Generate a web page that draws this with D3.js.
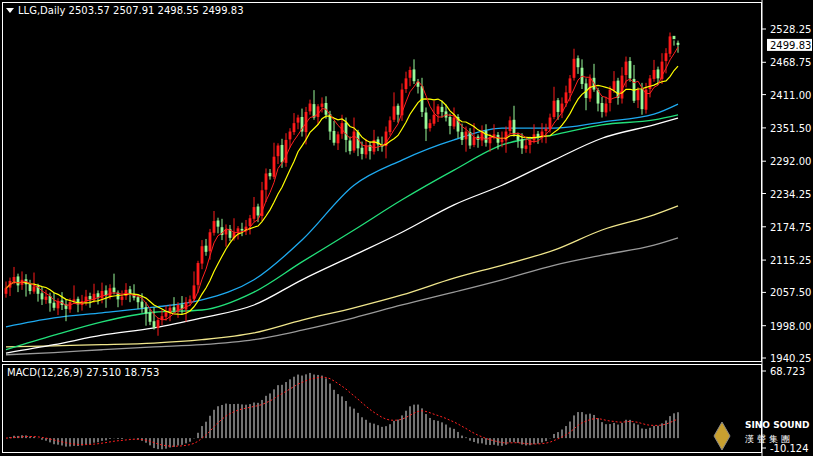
<!DOCTYPE html><html><head><meta charset="utf-8"><script src="https://cdn.jsdelivr.net/npm/d3@7"></script>
<style>body{margin:0;background:#000}svg{display:block}text{font-family:"DejaVu Sans",sans-serif}</style></head><body><svg id="c" width="813" height="456"></svg>
<script>
const closes=[2065,2078,2085,2070,2080,2072,2060,2068,2055,2045,2050,
2038,2030,2042,2035,2028,2040,2045,2036,2042,2050,
2045,2055,2048,2060,2052,2065,2058,2045,2050,2062,
2055,2048,2040,2030,2020,2005,1995,2008,2015,2022,
2030,2025,2035,2028,2040,2045,2070,2110,2140,2130,
2165,2185,2175,2160,2170,2155,2165,2172,2168,2175,
2190,2210,2195,2240,2270,2265,2300,2320,2290,2330,
2345,2360,2370,2345,2380,2395,2370,2390,2395,2375,
2345,2325,2340,2360,2330,2310,2345,2315,2305,2320,
2310,2330,2322,2318,2345,2365,2390,2375,2420,2440,
2455,2435,2425,2380,2350,2360,2375,2390,2380,2370,
2355,2370,2345,2330,2345,2320,2335,2330,2345,2325,
2335,2340,2325,2330,2345,2365,2340,2330,2315,2320,
2330,2340,2335,2345,2350,2370,2400,2380,2395,2415,
2440,2475,2460,2430,2405,2440,2420,2395,2380,2395,
2420,2435,2405,2445,2470,2440,2400,2420,2385,2420,
2440,2455,2440,2470,2485,2515,2510,2499.83];
const opens=[2055,2066,2077,2086,2071,2081,2073,2059,2069,2056,2044,
2051,2039,2029,2043,2036,2027,2041,2046,2035,2041,
2051,2044,2056,2047,2061,2051,2066,2057,2044,2051,
2063,2054,2049,2041,2031,2021,2006,1994,2009,2014,
2021,2031,2024,2036,2027,2039,2046,2071,2109,2141,
2131,2164,2186,2174,2161,2171,2154,2166,2171,2167,
2176,2189,2211,2194,2241,2271,2264,2301,2321,2289,
2331,2344,2361,2371,2344,2381,2394,2371,2389,2396,
2376,2346,2324,2341,2361,2329,2311,2344,2316,2304,
2321,2309,2331,2321,2319,2344,2366,2391,2374,2421,
2441,2456,2434,2426,2379,2351,2359,2376,2389,2381,
2371,2354,2371,2344,2331,2344,2321,2336,2329,2346,
2324,2336,2339,2326,2329,2346,2366,2339,2331,2314,
2321,2329,2341,2334,2346,2349,2371,2401,2379,2396,
2414,2441,2476,2459,2431,2404,2441,2419,2396,2379,
2396,2419,2436,2404,2446,2471,2439,2401,2421,2384,
2421,2439,2456,2439,2471,2484,2516,2503.57];
const wickUp=[12,6,18,5,15,9,7,25,4,11];
const wickDn=[7,15,5,12,9,22,6,4,14,10];
const highs=closes.map((c,i)=>Math.max(c,opens[i])+wickUp[i%10]);
const lows=closes.map((c,i)=>Math.min(c,opens[i])-wickDn[i%10]);
highs[167]=2507.91;lows[167]=2498.55;
const maIdx=[0,12,24,37,49,62,74,87,99,112,124,137,149,162,168];
const maBlue=[1996,2012,2021,2031,2044,2080,2151,2249,2294,2330,2351,2351,2362,2376,2394];
const maGreen=[1955,1981,2005,2022,2026,2058,2112,2169,2223,2276,2321,2339,2357,2366,2375];
const maWhite=[1949,1964,1981,1994,2012,2035,2080,2124,2165,2214,2249,2294,2333,2357,2369];
const maKhaki=[1960,1962,1964,1967,1973,1985,2008,2030,2053,2083,2106,2133,2169,2196,2212];
const maGrey=[1946,1950,1955,1960,1964,1973,1990,2012,2035,2058,2080,2106,2124,2142,2155];
const priceTicks=[2528.25,2468.75,2411.00,2351.50,2292.00,2234.25,2174.75,2115.25,2057.50,1998.00,1940.25];
const macdTicks=[68.723,-10.124];

const svg=d3.select("#c");
const n=closes.length;
const x=d3.scaleLinear().domain([0,n-1]).range([6,678]);
const y=d3.scaleLinear().domain([1940.25,2528.25]).range([358,29]);
svg.append("rect").attr("x",2.5).attr("y",2.5).attr("width",759).attr("height",359).attr("fill","none").attr("stroke","#fff");
svg.append("rect").attr("x",2.5).attr("y",364.5).attr("width",759).attr("height",88).attr("fill","none").attr("stroke","#fff");
svg.append("clipPath").attr("id","cp").append("rect").attr("x",3).attr("y",3).attr("width",758).attr("height",358);
const g=svg.append("g").attr("clip-path","url(#cp)");
function maLine(vals,col){g.append("path").datum(vals).attr("fill","none").attr("stroke",col).attr("stroke-width",1.3)
 .attr("d",d3.line().x((d,i)=>x(maIdx[i])).y(d=>y(d)).curve(d3.curveMonotoneX));}
maLine(maGrey,"#9a9a9a");maLine(maKhaki,"#f0e68c");maLine(maWhite,"#ffffff");maLine(maGreen,"#22e07a");maLine(maBlue,"#1eaaf0");
const cw=2.8;
closes.forEach((c,i)=>{const o=opens[i];const up=c>=o;const col=up?"#ff1a1a":"#98f898";
 g.append("line").attr("x1",x(i)).attr("x2",x(i)).attr("y1",y(highs[i])).attr("y2",y(lows[i])).attr("stroke",col).attr("stroke-width",1);
 g.append("rect").attr("x",x(i)-cw/2).attr("y",y(Math.max(o,c))).attr("width",cw).attr("height",Math.max(1,Math.abs(y(o)-y(c)))).attr("fill",col);});
function sma(p){return closes.map((c,i)=>d3.mean(closes.slice(Math.max(0,i-p+1),i+1)));}
g.append("path").datum(sma(10)).attr("fill","none").attr("stroke","#ffff00").attr("stroke-width",1.2).attr("d",d3.line().x((d,i)=>x(i)).y(d=>y(d)));
g.append("path").datum(sma(5)).attr("fill","none").attr("stroke","#ff2020").attr("stroke-width",1).attr("d",d3.line().x((d,i)=>x(i)).y(d=>y(d)));
const ax=svg.append("g").attr("transform","translate(762,0)");
ax.append("line").attr("x1",0).attr("x2",0).attr("y1",0).attr("y2",456).attr("stroke","#fff");
priceTicks.forEach(t=>{ax.append("line").attr("x1",0).attr("x2",4).attr("y1",y(t)).attr("y2",y(t)).attr("stroke","#fff");
 ax.append("text").attr("x",8).attr("y",y(t)+4).attr("fill","#fff").attr("font-size",10).text(t.toFixed(2));});
ax.append("rect").attr("x",5).attr("y",y(2499.83)-6).attr("width",45).attr("height",12).attr("fill","#fff");
ax.append("text").attr("x",8).attr("y",y(2499.83)+4).attr("fill","#000").attr("font-size",10).text("2499.83");
svg.append("path").attr("d","M6,8 L14,8 L10,13 Z").attr("fill","#fff");
svg.append("text").attr("x",18).attr("y",14).attr("fill","#fff").attr("font-size",10).text("LLG,Daily  2503.57 2507.91 2498.55 2499.83");
function ema(arr,p){const k=2/(p+1);let e=arr[0];return arr.map(v=>e=v*k+e*(1-k));}
const e12=ema(closes,12),e26=ema(closes,26);
const macd=closes.map((c,i)=>e12[i]-e26[i]);
const sig=(()=>{let s=macd[0];return macd.map(v=>s=s+(v-s)*0.2);})();
const ym=d3.scaleLinear().domain([-10.124,68.723]).range([448,371]);
const gm=svg.append("g");
macd.forEach((v,i)=>gm.append("line").attr("x1",x(i)).attr("x2",x(i)).attr("y1",ym(0)).attr("y2",ym(v)).attr("stroke","#fff").attr("stroke-width",0.9));
gm.append("path").datum(sig).attr("fill","none").attr("stroke","#ff2020").attr("stroke-dasharray","2,2").attr("d",d3.line().x((d,i)=>x(i)).y(d=>ym(d)));
svg.append("text").attr("x",7).attr("y",376).attr("fill","#fff").attr("font-size",10).text("MACD(12,26,9) 27.510 18.753");
macdTicks.forEach(t=>{ax.append("line").attr("x1",0).attr("x2",4).attr("y1",ym(t)).attr("y2",ym(t)).attr("stroke","#fff");
 ax.append("text").attr("x",8).attr("y",ym(t)+4).attr("fill","#fff").attr("font-size",10).text(t.toFixed(3));});
svg.append("path").attr("d","M722,422 L730,436 L722,450 L714,436 Z").attr("fill","#c8a030").attr("stroke","#888");
svg.append("text").attr("x",745).attr("y",428).attr("fill","#fff").attr("font-size",9).attr("font-weight","bold").text("SINO SOUND");
svg.append("text").attr("x",745).attr("y",442).attr("fill","#fff").attr("font-size",9).attr("font-family","Noto Sans CJK TC").text("漢 聲 集 團");
</script></body></html>
